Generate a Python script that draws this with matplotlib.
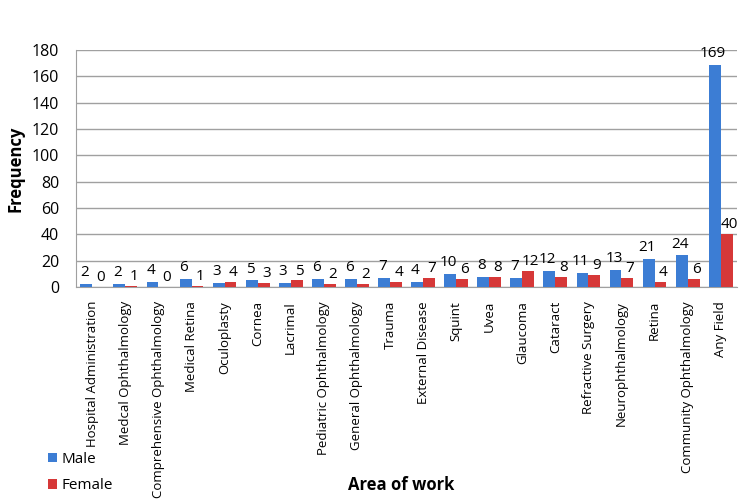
import numpy as np
import matplotlib
matplotlib.use("Agg")
import matplotlib.pyplot as plt

plt.rcParams['font.family'] = ['Open Sans', 'DejaVu Sans']

areas = ["Hospital Administration", "Medcal Ophthalmology", "Comprehensive Ophthalmology",
         "Medical Retina", "Oculoplasty", "Cornea", "Lacrimal", "Pediatric Ophthalmology",
         "General Ophthalmology", "Trauma", "External Disease", "Squint", "Uvea", "Glaucoma",
         "Cataract", "Refractive Surgery", "Neurophthalmology", "Retina",
         "Community Ophthalmology", "Any Field"]
male = [2, 2, 4, 6, 3, 5, 3, 6, 6, 7, 4, 10, 8, 7, 12, 11, 13, 21, 24, 169]
female = [0, 1, 0, 1, 4, 3, 5, 2, 2, 4, 7, 6, 8, 12, 8, 9, 7, 4, 6, 40]

blue = "#3c7dd4"
red = "#d63838"

fig = plt.figure(figsize=[7.5, 5.01], dpi=100)
ax = fig.add_axes([0.101, 0.427, 0.882, 0.473])

x = np.arange(len(areas))
w = 0.36
b1 = ax.bar(x - w/2, male, w, color=blue, label="Male", zorder=3)
b2 = ax.bar(x + w/2, female, w, color=red, label="Female", zorder=3)

for rect, v in zip(b1, male):
    ax.text(rect.get_x() + rect.get_width()/2 - 0.05, v + 3, str(v), ha="center", va="bottom", fontsize=11)
for rect, v in zip(b2, female):
    ax.text(rect.get_x() + rect.get_width()/2 + 0.08, v + 1.5, str(v), ha="center", va="bottom", fontsize=11)

ax.set_xlim(-0.5, len(areas) - 0.5)
ax.set_ylim(0, 180)
ax.set_yticks(range(0, 181, 20))
ax.yaxis.grid(True, color="#a0a0a0", linewidth=1, zorder=0)
ax.set_xticks(x)
ax.set_xticklabels(areas, rotation=90, fontsize=9.5)
ax.tick_params(axis="x", length=0, pad=10)
ax.tick_params(axis="y", length=0, labelsize=11.5, pad=12)
for s in ["top", "right"]:
    ax.spines[s].set_visible(False)
ax.spines["left"].set_color("#a0a0a0")
ax.spines["bottom"].set_color("#a0a0a0")

ax.set_ylabel("Frequency", fontsize=12, fontweight="bold", labelpad=5)
fig.text(0.535, 0.032, "Area of work", ha="center", va="center", fontsize=12, fontweight="bold")

fig.legend(handles=[b1, b2], labels=["Male", "Female"], loc="lower left",
           bbox_to_anchor=(0.045, -0.012), frameon=False, fontsize=11,
           handlelength=0.6, handleheight=0.6, handletextpad=0.3, labelspacing=0.75)

plt.savefig("out.png")
